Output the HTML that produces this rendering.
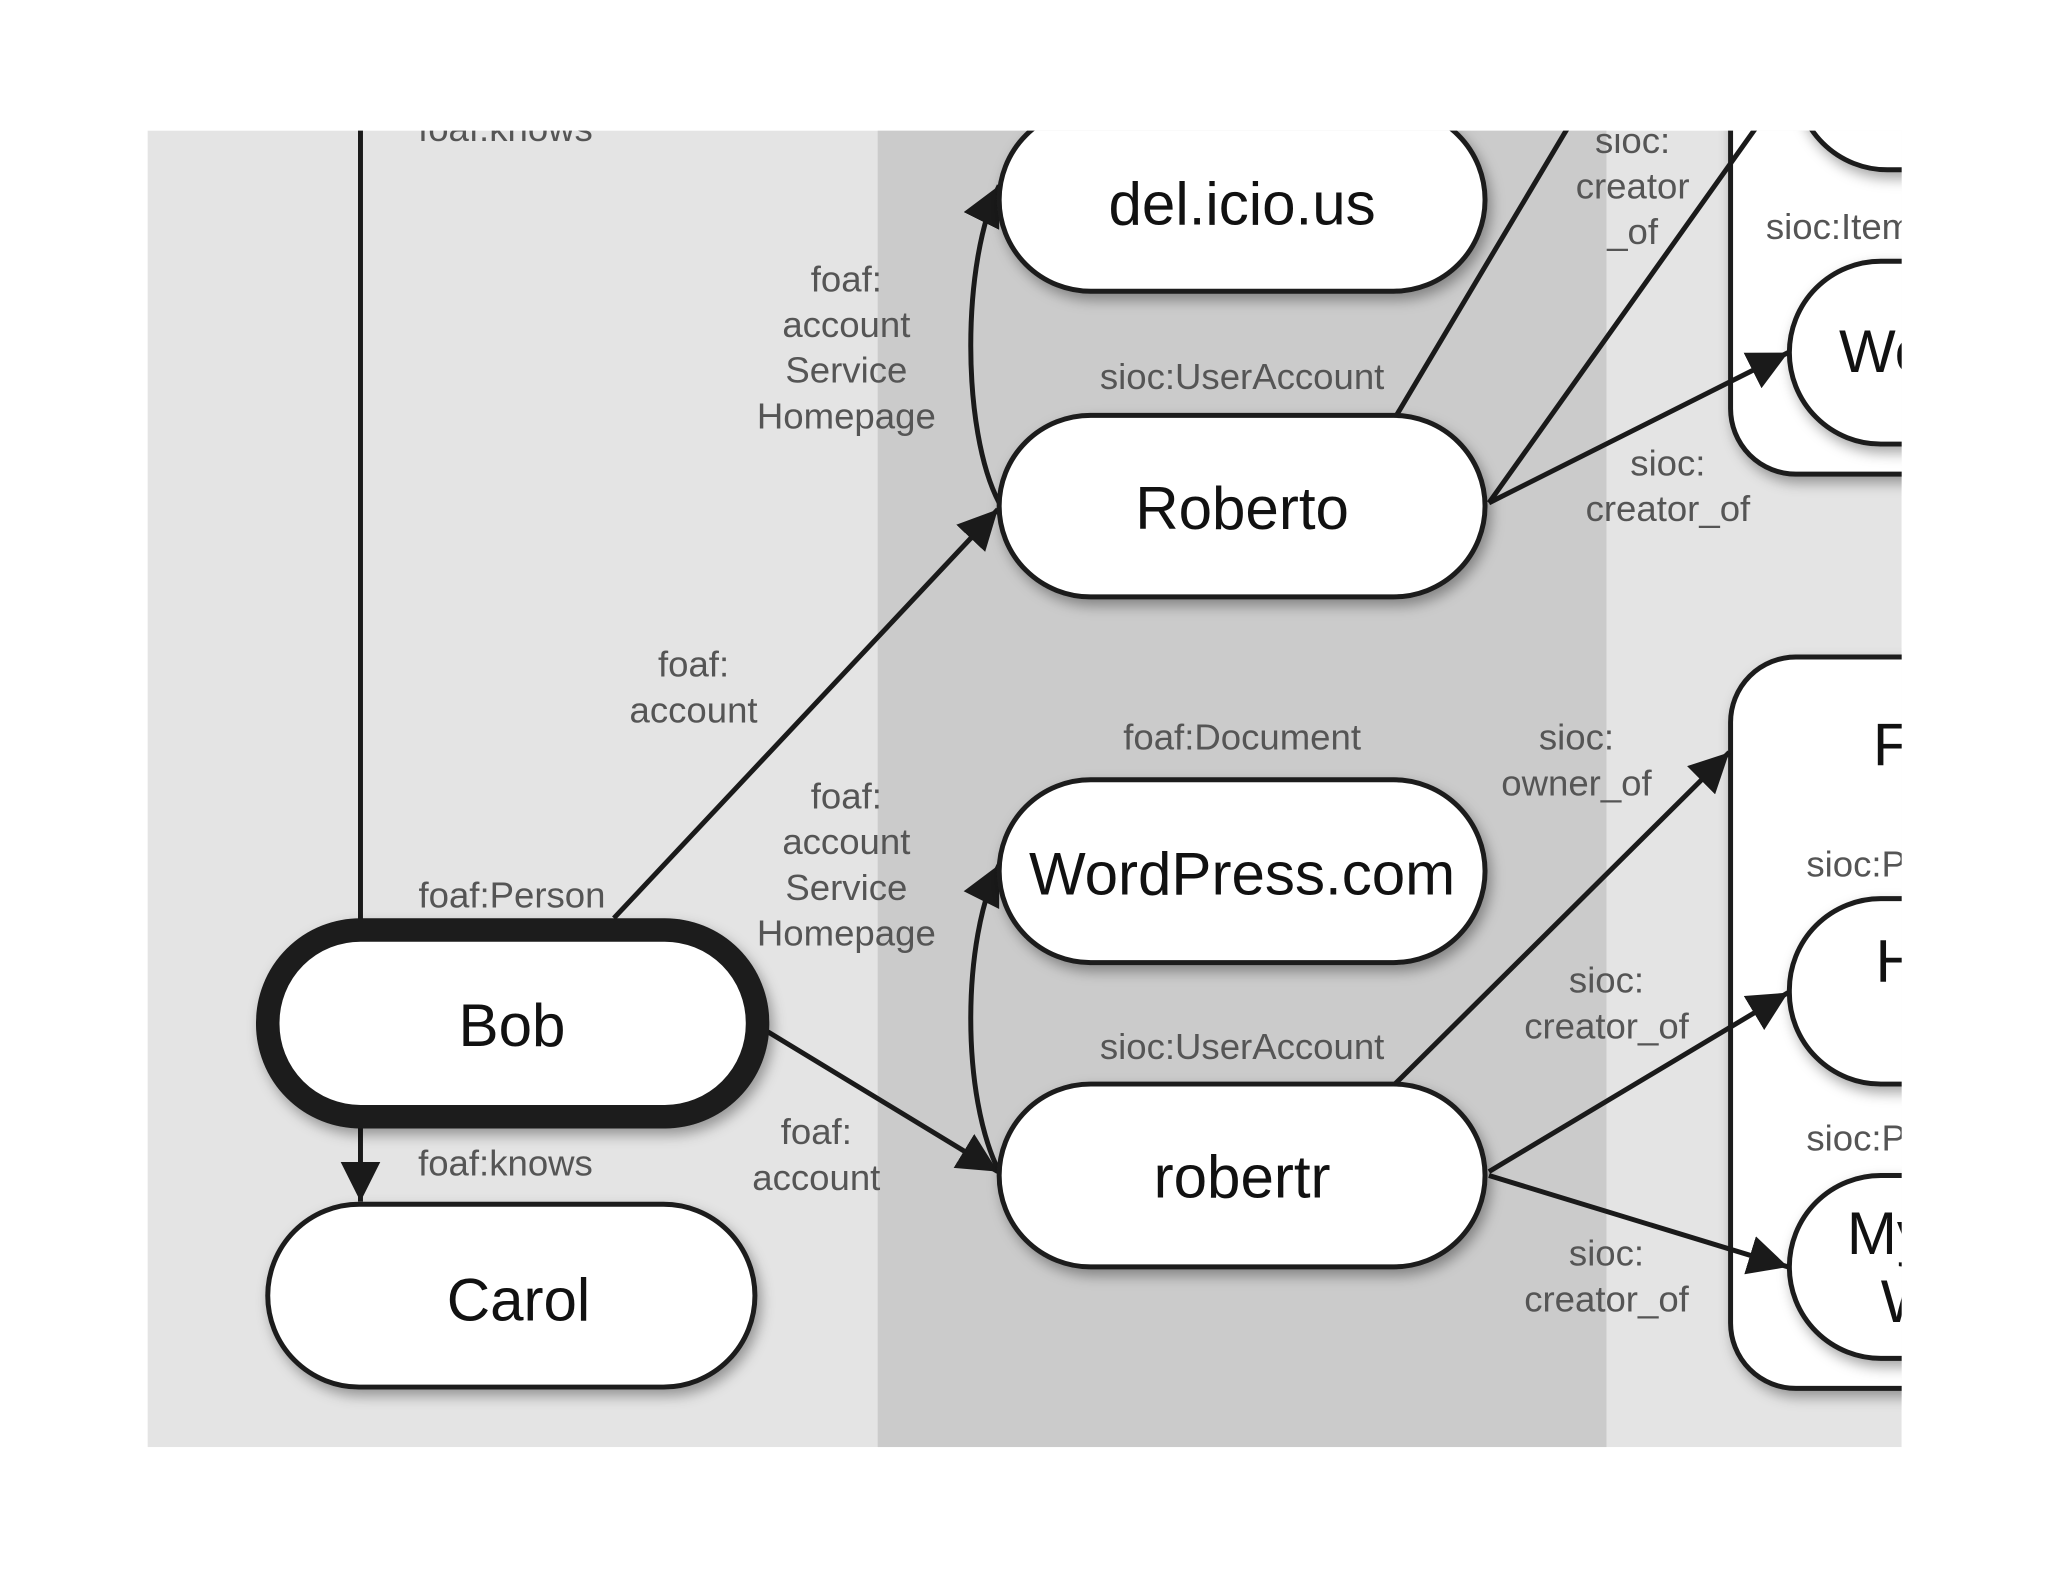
<!DOCTYPE html>
<html><head><meta charset="utf-8"><style>
html,body{margin:0;padding:0;background:#fff;}
svg{display:block;}
.lb{font-family:"Liberation Sans",sans-serif;font-size:28px;fill:#555;text-anchor:middle;}
.nt{font-family:"Liberation Sans",sans-serif;font-size:46px;fill:#111;text-anchor:middle;}
.ln{stroke:#1a1a1a;stroke-width:3.8;fill:none;}
.nd{fill:#fff;stroke:#1a1a1a;stroke-width:3.8;filter:url(#sh);}
</style></head><body>
<svg width="2048" height="1582" viewBox="0 0 2048 1582" xmlns="http://www.w3.org/2000/svg">
<defs>
<filter id="sh" x="-20%" y="-20%" width="140%" height="150%"><feDropShadow dx="3" dy="5" stdDeviation="5" flood-color="#000" flood-opacity="0.35"/></filter>
<marker id="ar" viewBox="0 0 10 10" refX="10" refY="5" markerWidth="8" markerHeight="8" orient="auto" markerUnits="strokeWidth"><path d="M0,0 L10,5 L0,10 z" fill="#1a1a1a"/></marker>
<clipPath id="cp"><rect x="113" y="100" width="1343" height="1008"/></clipPath>
</defs>
<g transform="scale(1.3061)">
<g clip-path="url(#cp)">
<rect x="113" y="100" width="1343" height="1008" fill="#e4e4e4"/>
<rect x="672" y="100" width="558" height="1008" fill="#cbcbcb"/>
<rect class="nd" x="1325" y="-120" width="320" height="483" rx="50"/>
<rect class="nd" x="1325" y="503" width="320" height="560" rx="50"/>
<rect class="nd" x="1375" y="-10" width="300" height="140" rx="70"/>
<rect class="nd" x="1370" y="200" width="300" height="140" rx="70"/>
<rect class="nd" x="1370" y="688" width="300" height="142" rx="70"/>
<rect class="nd" x="1370" y="900" width="300" height="140" rx="70"/>
<text class="lb" x="1352" y="183" style="text-anchor:start">sioc:Item</text>
<text class="lb" x="1383" y="671" style="text-anchor:start">sioc:Post</text>
<text class="lb" x="1383" y="881" style="text-anchor:start">sioc:Post</text>
<text class="nt" x="1448" y="586">F</text>
<text class="nt" x="1408" y="285" style="text-anchor:start">We</text>
<text class="nt" x="1436" y="752" style="text-anchor:start">H</text>
<text class="nt" x="1414" y="960" style="text-anchor:start">My</text>
<text class="nt" x="1440" y="1012" style="text-anchor:start">W</text>
<line class="ln" x1="276" y1="90" x2="276" y2="705"/>
<line class="ln" x1="276" y1="858" x2="276" y2="920" marker-end="url(#ar)"/>
<line class="ln" x1="470" y1="703" x2="764" y2="390" marker-end="url(#ar)"/>
<line class="ln" x1="588" y1="790" x2="764" y2="897" marker-end="url(#ar)"/>
<path class="ln" d="M765,385 C736,330 736,200 765,142" marker-end="url(#ar)"/>
<path class="ln" d="M765,897 C736,840 736,720 765,662" marker-end="url(#ar)"/>
<line class="ln" x1="1068" y1="320" x2="1205" y2="90"/>
<line class="ln" x1="1140" y1="385" x2="1350" y2="90"/>
<line class="ln" x1="1140" y1="385" x2="1369" y2="270" marker-end="url(#ar)"/>
<line class="ln" x1="1068" y1="830" x2="1324" y2="576" marker-end="url(#ar)"/>
<line class="ln" x1="1140" y1="897" x2="1369" y2="760" marker-end="url(#ar)"/>
<line class="ln" x1="1140" y1="900" x2="1369" y2="970" marker-end="url(#ar)"/>
<rect x="205" y="712" width="375" height="143" rx="71" fill="#fff" stroke="#1a1a1a" stroke-width="18" filter="url(#sh)"/>
<rect class="nd" x="205" y="922" width="373" height="140" rx="70"/>
<rect class="nd" x="765" y="83" width="372" height="140" rx="70"/>
<rect class="nd" x="765" y="318" width="372" height="139" rx="70"/>
<rect class="nd" x="765" y="597" width="372" height="140" rx="70"/>
<rect class="nd" x="765" y="830" width="372" height="140" rx="70"/>
<text class="nt" x="392" y="801">Bob</text>
<text class="nt" x="397" y="1011">Carol</text>
<text class="nt" x="951" y="172">del.icio.us</text>
<text class="nt" x="951" y="405">Roberto</text>
<text class="nt" x="951" y="685">WordPress.com</text>
<text class="nt" x="951" y="917">robertr</text>
<text class="lb" x="387" y="108">foaf:knows</text>
<text class="lb" x="392" y="695">foaf:Person</text>
<text class="lb" x="387" y="900">foaf:knows</text>
<text class="lb" x="531" y="518">foaf:</text>
<text class="lb" x="531" y="553">account</text>
<text class="lb" x="648" y="223">foaf:</text>
<text class="lb" x="648" y="258">account</text>
<text class="lb" x="648" y="293">Service</text>
<text class="lb" x="648" y="328">Homepage</text>
<text class="lb" x="648" y="619">foaf:</text>
<text class="lb" x="648" y="654">account</text>
<text class="lb" x="648" y="689">Service</text>
<text class="lb" x="648" y="724">Homepage</text>
<text class="lb" x="625" y="876">foaf:</text>
<text class="lb" x="625" y="911">account</text>
<text class="lb" x="951" y="298">sioc:UserAccount</text>
<text class="lb" x="951" y="811">sioc:UserAccount</text>
<text class="lb" x="951" y="574">foaf:Document</text>
<text class="lb" x="1250" y="117">sioc:</text>
<text class="lb" x="1250" y="152">creator</text>
<text class="lb" x="1250" y="187">_of</text>
<text class="lb" x="1277" y="364">sioc:</text>
<text class="lb" x="1277" y="399">creator_of</text>
<text class="lb" x="1207" y="574">sioc:</text>
<text class="lb" x="1207" y="609">owner_of</text>
<text class="lb" x="1230" y="760">sioc:</text>
<text class="lb" x="1230" y="795">creator_of</text>
<text class="lb" x="1230" y="969">sioc:</text>
<text class="lb" x="1230" y="1004">creator_of</text>
</g>
</g>
</svg>
</body></html>
